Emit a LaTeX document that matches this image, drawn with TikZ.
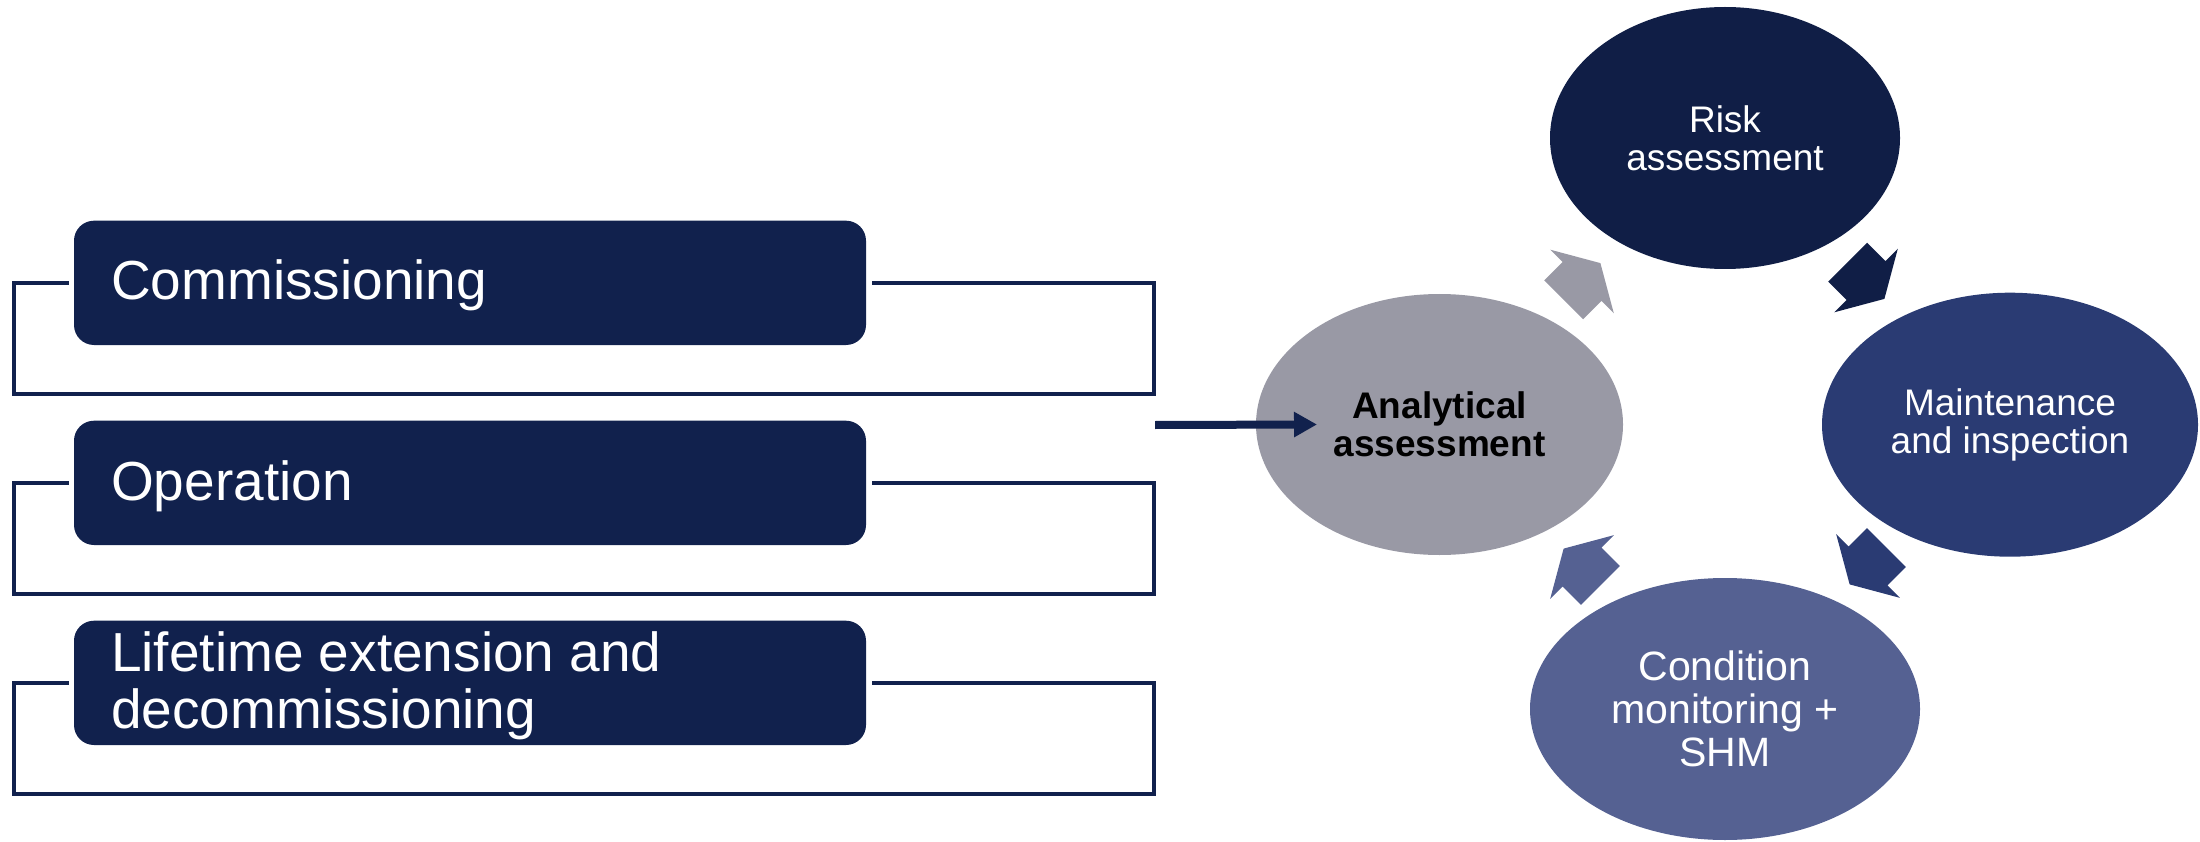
\documentclass[tikz,border=0pt]{standalone}
\usepackage{fontspec}
\setmainfont{Liberation Sans}
\usetikzlibrary{shapes.geometric,arrows.meta}
\definecolor{navy}{RGB}{17,33,77}
\definecolor{riskc}{RGB}{16,30,70}
\definecolor{maintc}{RGB}{42,59,115}
\definecolor{condc}{RGB}{85,97,146}
\definecolor{grayc}{RGB}{153,153,165}
\newcommand{\cycarr}[4]{\fill[#4, shift={(#1,#2)}, rotate=#3] (-26pt,-27.5pt) -- (0pt,-27.5pt) -- (0pt,-45pt) -- (26pt,0pt) -- (0pt,45pt) -- (0pt,27.5pt) -- (-26pt,27.5pt) -- cycle;}
\begin{document}
\begin{tikzpicture}[x=1pt,y=-1pt,
  box/.style={fill=navy, rounded corners=20pt, minimum width=792pt, minimum height=124.3pt, inner sep=0pt},
  boxtext/.style={text=white, font=\fontsize{55}{57}\selectfont, inner sep=0pt},
  bracket/.style={draw=navy, line width=4.5pt},
  cyc/.style={ellipse, inner sep=0pt, align=center, text=white, font=\fontsize{37}{38}\selectfont},
  flow/.style={draw=navy, line width=8pt, -{Triangle[length=23pt,width=24pt]}}
]
\useasboundingbox (0,0) rectangle (2200,842);

% left boxes
\node[box] (b1) at (470,282.85) {};
\node[box] (b2) at (470,482.85) {};
\node[box] (b3) at (470,682.85) {};
\node[boxtext, anchor=base west] (t1) at (111,300) {Commissioning};
\node[boxtext, anchor=base west] (t2) at (111,500) {Operation};
\node[boxtext, anchor=west, align=left] (t3) at (111,685.3) {Lifetime extension and\\decommissioning};

\draw[bracket] ([xshift=-5pt]b1.west) -- (14,282.85) -- (14,394) -- (1154,394) -- (1154,282.85) -- ([xshift=6pt]b1.east);
\draw[bracket] ([xshift=-5pt]b2.west) -- (14,482.85) -- (14,594) -- (1154,594) -- (1154,482.85) -- ([xshift=6pt]b2.east);
\draw[bracket] ([xshift=-5pt]b3.west) -- (14,682.85) -- (14,794) -- (1154,794) -- (1154,682.85) -- ([xshift=6pt]b3.east);

% cycle
\node[cyc, fill=riskc, minimum width=350pt, minimum height=262pt] (risk) at (1725,138) {Risk\\assessment};
\node[cyc, fill=grayc, text=black, font=\fontsize{37}{38}\selectfont\bfseries, minimum width=367pt, minimum height=261pt] (ana) at (1439.5,424.5) {Analytical\\assessment};
\node[cyc, fill=maintc, minimum width=376pt, minimum height=264pt] (maint) at (2010,424.7) {Maintenance\\and inspection};
\node[cyc, fill=condc, font=\fontsize{41}{43}\selectfont, minimum width=390pt, minimum height=262pt] (cond) at (1725,709) {Condition\\monitoring +\\SHM};

\cycarr{1582}{281.5}{45}{grayc}
\cycarr{1866}{280.5}{-45}{riskc}
\cycarr{1868}{566}{-135}{maintc}
\cycarr{1582}{567}{135}{condc}

\coordinate (src) at (1155,425);
\draw[flow] (src) -- ([xshift=-122.5pt]ana.center);
\end{tikzpicture}
\end{document}
